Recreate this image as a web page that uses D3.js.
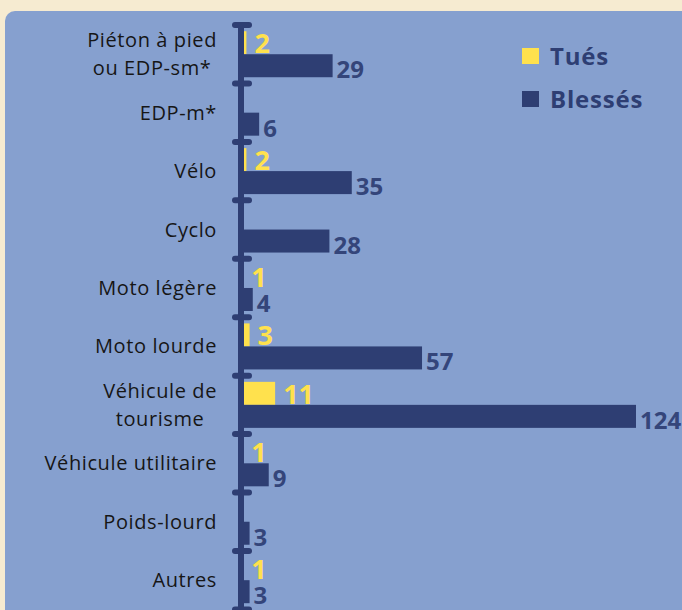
<!DOCTYPE html>
<html><head><meta charset="utf-8">
<script src="https://cdn.jsdelivr.net/npm/d3@7"></script>
<style>
html,body{margin:0;padding:0;background:#f6ebd1;}
svg{display:block;}
</style></head>
<body>
<svg id="chart" width="682" height="610"></svg>
<script>
const categories = [
  ["Piéton à pied", "ou EDP-sm*"],
  ["EDP-m*"],
  ["Vélo"],
  ["Cyclo"],
  ["Moto légère"],
  ["Moto lourde"],
  ["Véhicule de", "tourisme"],
  ["Véhicule utilitaire"],
  ["Poids-lourd"],
  ["Autres"]
];
const tues    = [2, 0, 2, 0, 1, 3, 11, 1, 0, 1];
const blesses = [29, 6, 35, 28, 4, 57, 124, 9, 3, 3];
const seriesNames = ["Tués", "Blessés"];
const seriesColors = ["#ffe14d", "#2e3e73"];

const FONT = "'Open Sans', 'Noto Sans', sans-serif";
const svg = d3.select("#chart");
const W = 682, H = 610;

// background
svg.append("rect").attr("x",0).attr("y",0).attr("width",W).attr("height",H).attr("fill","#f6ebd1");
svg.append("rect").attr("x",5).attr("y",11).attr("width",W+20).attr("height",H+20).attr("rx",10).attr("fill","#86a0cf");

const keys = categories.map(c => c.join(" "));
const y = d3.scaleBand().domain(keys).range([25, 609.4]).padding(0);
const ySub = d3.scaleBand().domain(seriesNames).range([0, y.bandwidth()]).paddingInner(0).paddingOuter(0.27);
const x = d3.scaleLinear().domain([0, 124]).range([240, 636]);

const data = keys.map((k,i) => ({key:k, lines:categories[i], vals:[tues[i], blesses[i]]}));

const g = svg.append("g");
const rows = g.selectAll("g.row").data(data).join("g").attr("class","row")
  .attr("transform", d => `translate(0,${y(d.key)})`);

// bars
rows.each(function(d){
  const row = d3.select(this);
  seriesNames.forEach((s, si) => {
    const v = d.vals[si];
    if (!v) return;
    row.append("rect")
      .attr("x", x(0))
      .attr("y", ySub(s))
      .attr("width", x(v) - x(0))
      .attr("height", ySub.bandwidth())
      .attr("fill", seriesColors[si]);
    row.append("text")
      .attr("x", x(v) + (si === 0 ? 8 : 4))
      .attr("y", ySub(s) + ySub.bandwidth() + (si === 0 ? -1 : 1))
      .attr("fill", si === 0 ? "#ffe14d" : "#34457a")
      .attr("font-family", FONT)
      .attr("font-weight", 700)
      .attr("font-size", si === 0 ? 27 : 24)
      .text(v);
  });
});

// axis line
svg.append("line").attr("x1",241).attr("x2",241).attr("y1",25).attr("y2",H+5)
  .attr("stroke","#2e3e73").attr("stroke-width",6);
// caps at band boundaries
const bounds = keys.map(k => y(k)).concat([y.range()[1]]);
svg.selectAll("line.cap").data(bounds).join("line").attr("class","cap")
  .attr("x1",235).attr("x2",249).attr("y1",d=>d).attr("y2",d=>d)
  .attr("stroke","#2e3e73").attr("stroke-width",6).attr("stroke-linecap","round");

// category labels
const labelRight = 217;
rows.each(function(d){
  const row = d3.select(this);
  const cy = y.bandwidth()/2;
  const n = d.lines.length;
  const lh = 28;
  const t = row.append("text")
    .attr("font-family", FONT)
    .attr("font-size", 20)
    .attr("letter-spacing", 0.6)
    .attr("fill", "#161616")
    .attr("text-anchor", "middle");
  const tspans = d.lines.map((line, li) => t.append("tspan")
    .attr("y", cy + (li - (n-1)/2) * lh + 7)
    .text(line));
  const wmax = d3.max(tspans, ts => ts.node().getComputedTextLength());
  tspans.forEach(ts => ts.attr("x", labelRight - wmax/2));
});

// legend
const leg = svg.append("g");
seriesNames.forEach((s, i) => {
  leg.append("rect").attr("x",522).attr("y",48 + i*43).attr("width",17).attr("height",16).attr("fill",seriesColors[i]);
  leg.append("text").attr("x",550).attr("y",65 + i*43)
    .attr("font-family",FONT).attr("font-weight",700).attr("font-size",24)
    .attr("letter-spacing", 0.8)
    .attr("fill","#2e3e73").text(s);
});
</script>
</body></html>
